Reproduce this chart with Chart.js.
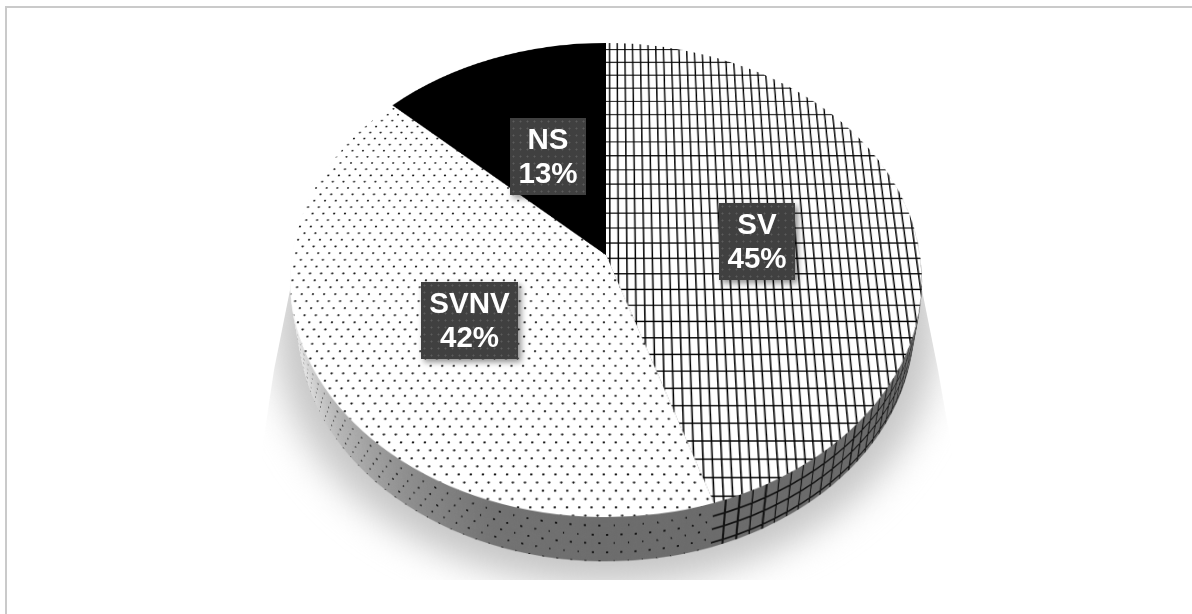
<!DOCTYPE html>
<html>
<head>
<meta charset="utf-8">
<title>SV SVNV NS</title>
<script src="https://cdn.jsdelivr.net/npm/chart.js@4/dist/chart.umd.min.js"></script>
<style>
  html, body { margin: 0; padding: 0; background: #fff; }
  #page { position: relative; width: 1192px; height: 614px; overflow: hidden; background: #fff; }
  #frame { position: absolute; left: 5px; top: 6px; width: 1200px; height: 620px; border: 2px solid #cacaca; box-sizing: border-box; }
  .holder { position: absolute; left: 266px; top: -85px; width: 680px; height: 680px; }
  .holder canvas { position: absolute; left: 0; top: 0; transform-origin: 340px 340px; }
  #shadowClip { position: absolute; left: 0; top: 0; width: 1192px; height: 614px;
    clip-path: polygon(292px 280px, 920px 280px, 938px 370px, 952px 450px, 952px 580px, 262px 580px, 262px 450px, 274px 370px); }
  .tag {
    position: absolute; box-sizing: border-box;
    color: #fff; font: bold 29.5px/34px "Liberation Sans", Arial, sans-serif; text-align: center;
    background-color: #404040;
    background-image: radial-gradient(circle, #5c5c5c 0.9px, transparent 1.1px);
    background-size: 7px 7px;
    box-shadow: 3px 3px 6px rgba(0,0,0,0.45);
    padding-top: 4px;
  }
</style>
</head>
<body>
<div id="page">
  <div id="frame"></div>
  <div id="shadowClip"><div id="shadowHolder" class="holder"></div></div>
  <div id="pieHolder" class="holder"></div>
</div>
<script>
'use strict';
let categories=['SV','SVNV','NS'];
let shares=[45,42,13];

let tagBoxes=[
  {left:719, top:203, width:76, height:77},
  {left:421, top:282, width:97, height:77},
  {left:510, top:118, width:76, height:77}
];

const SIZE=680;
const RADIUS=314;
const DEPTH=72;
const LAYERS=48;
const VIEW='perspective(1979px) rotateX(41.7deg)';

function makeCanvas(parent, zOffset, grow=1){
  let canvas=document.createElement('canvas');
  canvas.width=SIZE;
  canvas.height=SIZE;
  canvas.style.width=SIZE+'px';
  canvas.style.height=SIZE+'px';
  canvas.style.transform=`${VIEW} translateZ(${-zOffset}px) scale(${grow})`;
  parent.appendChild(canvas);
  return canvas;
}

function drawPie(canvas, colors){
  return new Chart(canvas, {
    type:'pie',
    data:{
      labels:categories,
      datasets:[{data:shares, backgroundColor:colors, borderWidth:0, radius:RADIUS}]
    },
    options:{
      responsive:false,
      animation:false,
      devicePixelRatio:1,
      plugins:{legend:{display:false}, tooltip:{enabled:false}}
    }
  });
}

// square grid fill for the SV slice
function gridPattern(){
  let tile=document.createElement('canvas');
  tile.width=17;
  tile.height=41;
  let c=tile.getContext('2d');
  c.fillStyle='#fff';
  c.fillRect(0,0,17,41);
  c.fillStyle='#000';
  c.fillRect(3.1,0,1.5,41);
  c.fillRect(11.6,0,1.5,41);
  c.fillRect(0,15.6,17,1.6);
  c.fillRect(0,36.1,17,1.6);
  return c.createPattern(tile,'repeat');
}

// staggered dot fill for the SVNV slice
function dotPattern(){
  let tile=document.createElement('canvas');
  tile.width=11;
  tile.height=18;
  let c=tile.getContext('2d');
  c.fillStyle='#fff';
  c.fillRect(0,0,11,18);
  c.fillStyle='#111';
  c.beginPath();
  c.arc(2.5,4.5,1.15,0,Math.PI*2);
  c.arc(8,13.5,1.15,0,Math.PI*2);
  c.fill();
  return c.createPattern(tile,'repeat');
}

// side wall gets darker from the left edge around to the front
function wallGray(deg){
  let stops=[[0,110],[90,104],[180,108],[200,115],[216,142],[235,184],[245,212],[253,232],[270,248],[360,248]];
  for(let i=1; i<stops.length; i++){
    if(deg<=stops[i][0]){
      let f=(deg-stops[i-1][0])/(stops[i][0]-stops[i-1][0]);
      let g=Math.round(stops[i-1][1]+(stops[i][1]-stops[i-1][1])*f);
      return `rgb(${g},${g},${g})`;
    }
  }
  return 'rgb(248,248,248)';
}

// conic fill of one wall layer: black marks every `period` degrees on the shaded gray
function wallFill(ctx, period, markWidth, offset){
  let g=ctx.createConicGradient(-Math.PI/2,SIZE/2,SIZE/2);
  for(let d=offset; d+period<=360; d+=period){
    let markStart=d+period-markWidth;
    g.addColorStop(d/360,wallGray(d));
    g.addColorStop(markStart/360,wallGray(markStart));
    if(markWidth>0){
      g.addColorStop(markStart/360,'#111');
      g.addColorStop((d+period)/360,'#111');
    }
  }
  return g;
}

function wallLayer(parent, i){
  let canvas=makeCanvas(parent,DEPTH*i/LAYERS);
  let ctx=canvas.getContext('2d');
  let frac=i/LAYERS;
  // grid on the SV part of the wall: three rings and upright lines
  let ring=(Math.abs(frac-0.3)<0.025 || Math.abs(frac-0.6)<0.025 || Math.abs(frac-0.9)<0.025);
  let svFill=ring ? '#111' : wallFill(ctx,2.5,0.35,0);
  // rows of dots on the SVNV part
  let row=Math.round(frac*5);
  let onRow=row>0 && Math.abs(frac*5-row)<0.1;
  let svnvFill=wallFill(ctx,2.4,onRow?0.3:0,row%2 ? 1.2 : 0);
  drawPie(canvas,[svFill,svnvFill,'#333']);
}

function drawScene(){
  let shadow=makeCanvas(document.getElementById('shadowHolder'),DEPTH+4,1.075);
  shadow.style.filter='blur(17px)';
  drawPie(shadow,['#c6c6c6','#c6c6c6','#c6c6c6']);

  let holder=document.getElementById('pieHolder');
  for(let i=LAYERS; i>=1; i--){
    wallLayer(holder,i);
  }
  drawPie(makeCanvas(holder,0),[gridPattern(),dotPattern(),'#000']);

  let page=document.getElementById('page');
  for(let i=0; i<categories.length; i++){
    let tag=document.createElement('div');
    let box=tagBoxes[i];
    tag.className='tag';
    tag.style.left=box.left+'px';
    tag.style.top=box.top+'px';
    tag.style.width=box.width+'px';
    tag.style.height=box.height+'px';
    tag.innerHTML=`${categories[i]}<br>${shares[i]}%`;
    page.appendChild(tag);
  }
}
drawScene();
</script>
</body>
</html>
